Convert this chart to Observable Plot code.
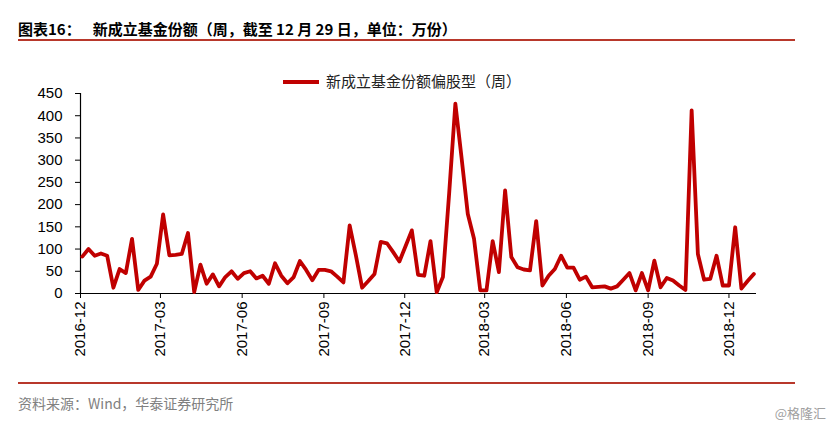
<!DOCTYPE html>
<html><head><meta charset="utf-8">
<script src="https://cdn.jsdelivr.net/npm/d3@7"></script>
<script src="https://cdn.jsdelivr.net/npm/@observablehq/plot@0.6"></script>
<style>
body{margin:0;background:#fff}
#wrap{position:relative;width:832px;height:428px;overflow:hidden;background:#fff;font-family:"Noto Sans CJK SC","Noto Sans",sans-serif}
#title{position:absolute;left:18px;top:20px;font-size:15px;line-height:18px;font-weight:bold;color:#000;white-space:nowrap}
#title .gap{display:inline-block;width:12px}
.rule{position:absolute;left:18px;width:777px;height:1.5px;background:#b8382b}
#legend{position:absolute;left:283px;top:71px;height:20px;white-space:nowrap;font-size:15px;line-height:20px;color:#222}
#legend .sw{display:inline-block;width:36px;height:4px;background:#c00000;vertical-align:middle;margin-right:7px;position:relative;top:-1px}
#chart{position:absolute;left:0;top:60px}
#source{position:absolute;left:18px;top:394px;font-size:14px;line-height:18px;color:#808080;white-space:nowrap}
#mark{position:absolute;right:6px;top:404px;font-size:13px;line-height:18px;color:#a0a0a0;white-space:nowrap}
</style></head><body>
<div id="wrap">
  <div id="title">图表16：<span class="gap"></span>新成立基金份额（周，截至 12 月 29 日，单位：万份）</div>
  <div class="rule" style="top:39px"></div>
  <div id="legend"><span class="sw"></span><span id="legendText"></span></div>
  <div id="chart"></div>
  <div class="rule" style="top:382px"></div>
  <div id="source">资料来源：Wind，华泰证券研究所</div>
  <div id="mark">@格隆汇</div>
</div>
<script>
const seriesName = "新成立基金份额偏股型（周）";
const firstWeek = "2016-12-03";
const axisStart = "2016-12-01";
const axisEnd = "2019-01-01";
const values = [
  83, 100, 85, 90, 85, 13, 55, 46, 123, 8,
  29, 38, 67, 178, 86, 87, 89, 136, 3, 65,
  22, 43, 16, 37, 50, 33, 46, 50, 34, 40,
  22, 68, 40, 23, 37, 73, 53, 30, 53, 53,
  50, 38, 25, 153, 86, 13, 28, 44, 116, 113,
  93, 72, 107, 142, 42, 40, 118, 3, 37, 225,
  427, 305, 179, 123, 7, 7, 118, 48, 232, 82,
  59, 54, 52, 163, 18, 40, 55, 85, 58, 58,
  31, 38, 14, 15, 16, 11, 16, 31, 46, 7,
  46, 7, 74, 14, 35, 29, 18, 8, 412, 89,
  31, 33, 85, 18, 18, 149, 11, 28, 44
];
const yTicks = [0, 50, 100, 150, 200, 250, 300, 350, 400, 450];
const xTickLabels = ["2016-12","2017-03","2017-06","2017-09","2017-12","2018-03","2018-06","2018-09","2018-12"];

document.getElementById("legendText").textContent = seriesName;

const parseDay = d3.utcParse("%Y-%m-%d");
const parseMonth = d3.utcParse("%Y-%m");
const start = parseDay(firstWeek);
const data = values.map((v, i) => ({date: d3.utcDay.offset(start, 7 * i), value: v}));
const tickDates = xTickLabels.map(parseMonth);
const xDomain = [parseDay(axisStart), parseDay(axisEnd)];

const chart = Plot.plot({
  width: 832,
  height: 300,
  marginLeft: 80,
  marginRight: 76,
  marginTop: 33,
  marginBottom: 67,
  style: {fontFamily: "'Liberation Sans', Arial, sans-serif", fontSize: "15px", color: "#000", background: "transparent", overflow: "visible"},
  x: {type: "utc", domain: xDomain},
  y: {domain: [0, 450]},
  marks: [
    Plot.axisY({ticks: yTicks, tickSize: 5, tickPadding: 13, label: null, fontSize: 15, stroke: "#000"}),
    Plot.axisX({ticks: tickDates, tickFormat: (d, i) => xTickLabels[i], tickRotate: -90, tickSize: 5, tickPadding: 3, label: null, fontSize: 15, stroke: "#000"}),
    Plot.ruleY([0], {stroke: "#000", strokeWidth: 1.2}),
    Plot.ruleX([xDomain[0]], {stroke: "#000", strokeWidth: 1.2}),
    Plot.lineY(data, {x: "date", y: "value", stroke: "#c00000", strokeWidth: 3.8})
  ]
});
document.getElementById("chart").appendChild(chart);
</script>
</body></html>
